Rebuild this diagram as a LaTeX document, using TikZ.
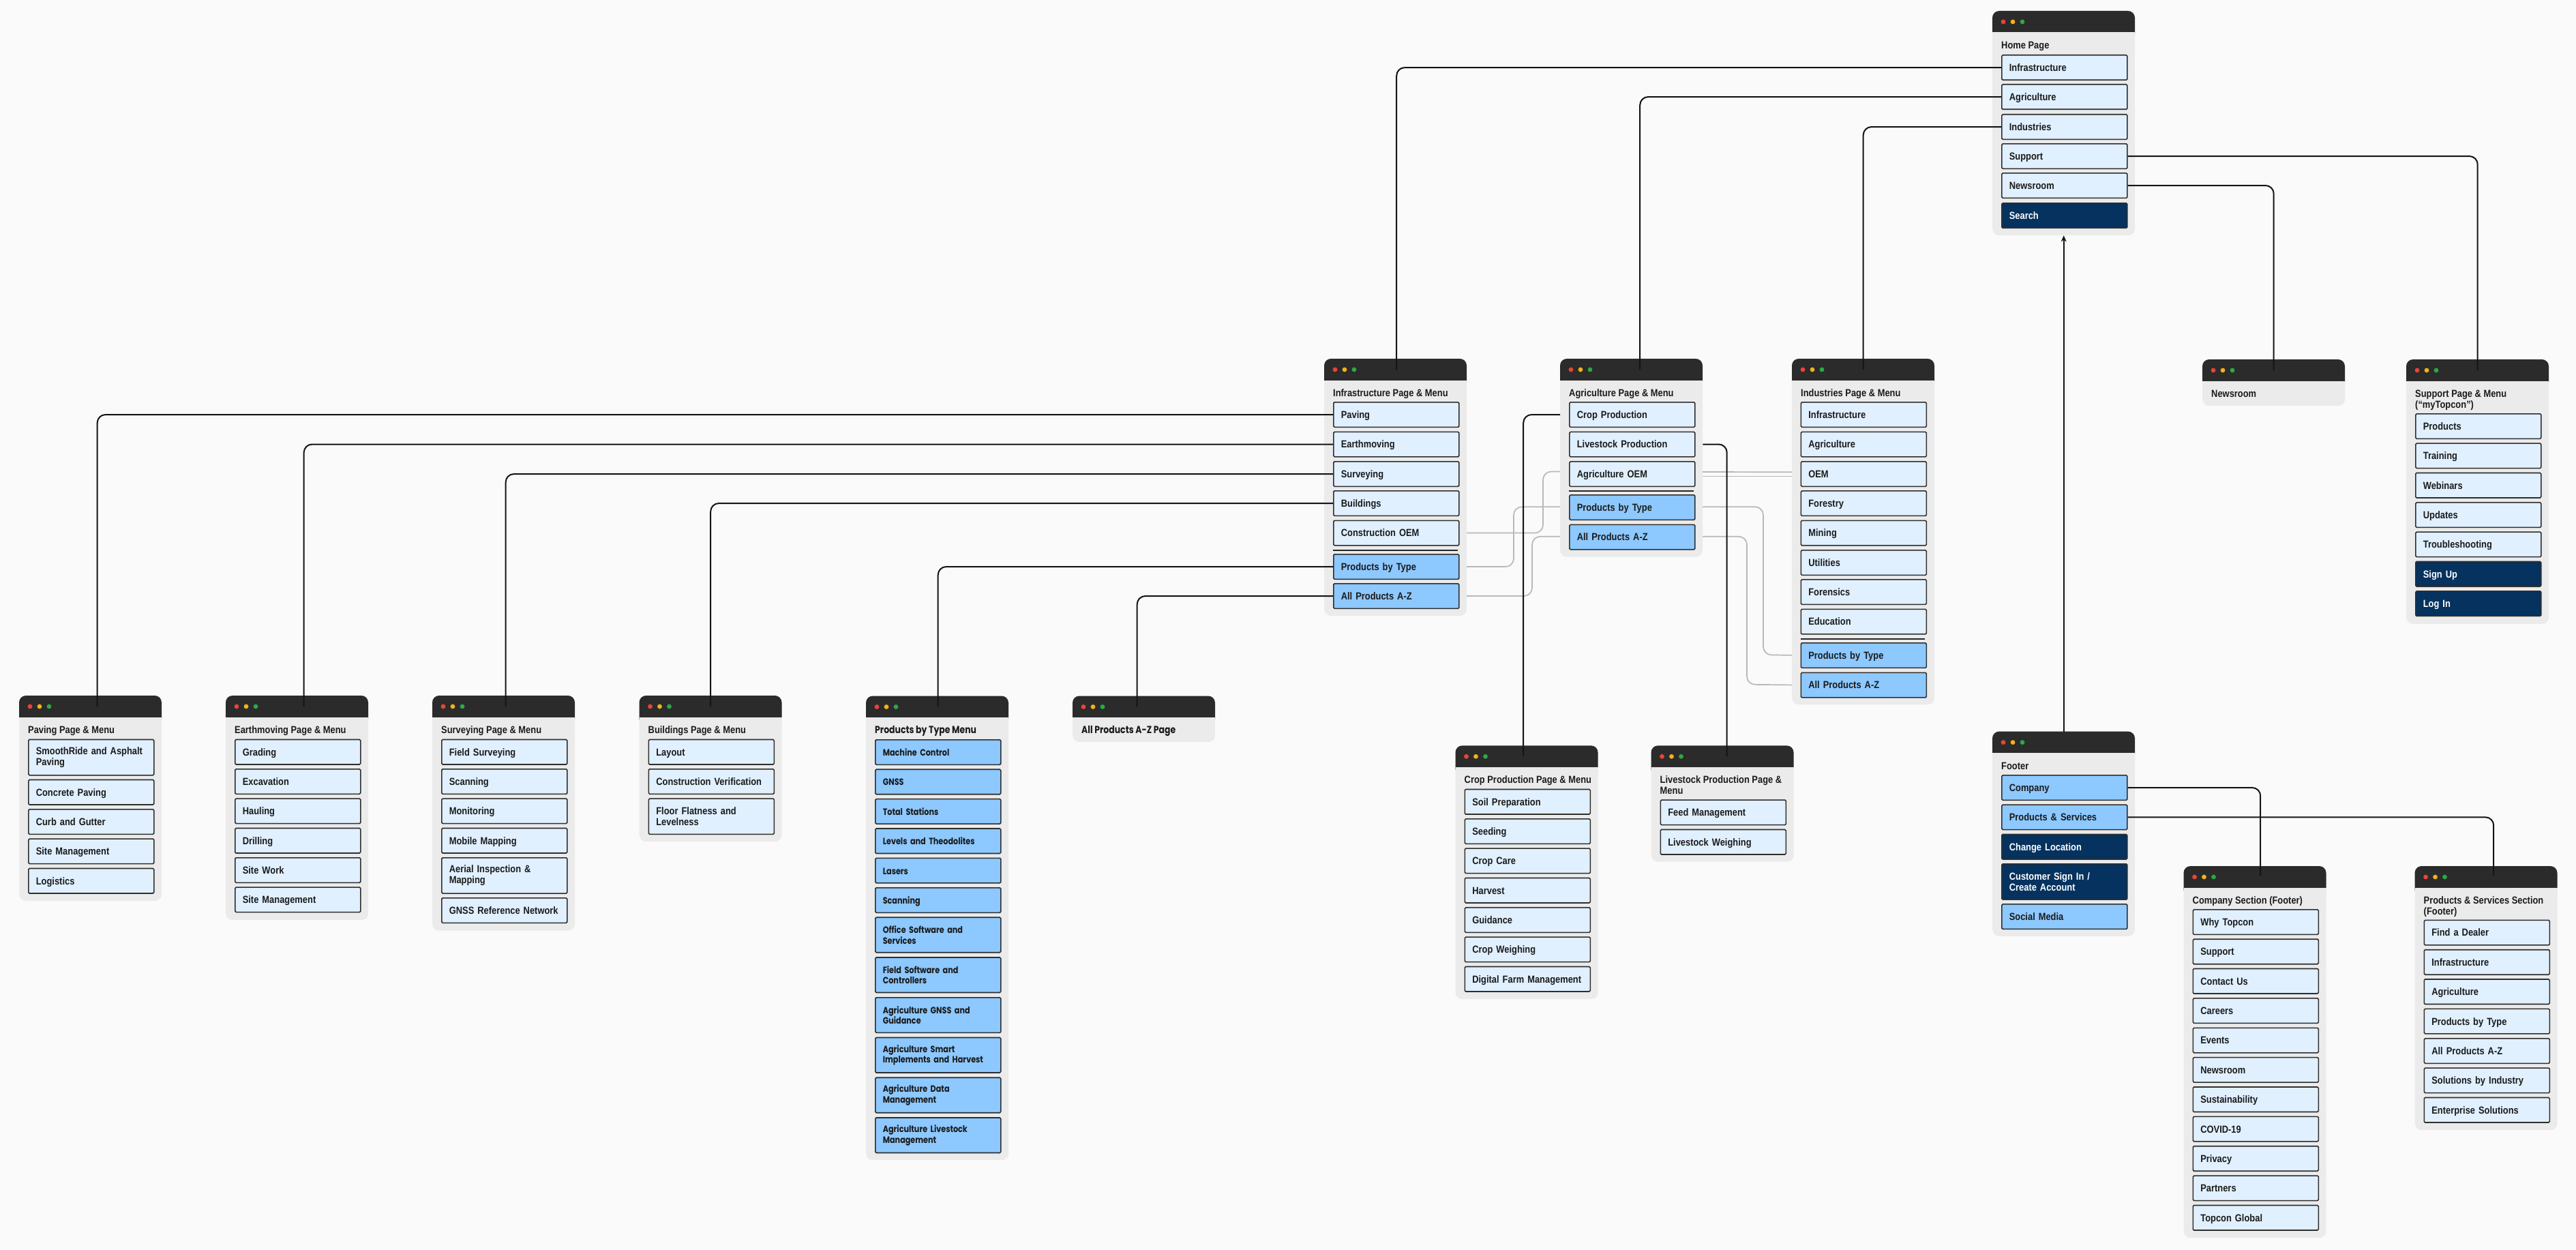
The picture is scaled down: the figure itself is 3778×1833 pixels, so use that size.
\documentclass[tikz,border=0pt]{standalone}
\usepackage{fontspec}
\setmainfont{Liberation Sans}[FakeStretch=0.86]
\newfontfamily\popfont{Poppins}[FakeStretch=0.83]
\usetikzlibrary{arrows.meta,calc}
\definecolor{bgc}{HTML}{FAFAFA}
\definecolor{winbg}{HTML}{EBEBEB}
\definecolor{tbarc}{HTML}{2B2B2B}
\definecolor{itlight}{HTML}{E0F0FF}
\definecolor{itblue}{HTML}{8DC8FE}
\definecolor{itnavy}{HTML}{05325F}
\definecolor{edge}{HTML}{2E2E2E}
\definecolor{txt}{HTML}{1A1A1A}
\definecolor{dred}{HTML}{EB4437}
\definecolor{dorange}{HTML}{F5B118}
\definecolor{dgreen}{HTML}{2BAA45}
\definecolor{gline}{HTML}{B8B8B8}
\pgfdeclarelayer{background}
\pgfdeclarelayer{lines}
\pgfsetlayers{background,lines,main}
\newcommand\ifont{\fontsize{15}{16}\selectfont\bfseries}
\newcommand\pfont{\popfont\fontsize{13.5}{15.5}\selectfont\bfseries}
\tikzset{
  x=1pt, y=-1pt,
  itembase/.style={draw=edge, line width=1.6pt, rounded corners=1.5pt, fill=itlight,
    anchor=north west, minimum width=184pt, text width=162pt, inner xsep=11pt,
    inner ysep=0pt, align=left, font=\ifont, text=txt},
  item/.style={itembase, minimum height=36.5pt, text height=12pt, text depth=1.3pt},
  itemtwo/.style={itembase, minimum height=52.3pt},
  blue/.style={fill=itblue},
  navy/.style={fill=itnavy, text=white},
  pitem/.style={item, fill=itblue, font=\pfont},
  pitemtwo/.style={itemtwo, fill=itblue, font=\pfont, minimum height=51.5pt},
  winnode/.style={rectangle, fill=winbg, rounded corners=10pt, anchor=north west,
    minimum width=209pt, inner sep=0pt, draw=none},
  wtitle/.style={anchor=base west, inner sep=0pt, font=\ifont, text=txt},
  sepline/.style={draw=black!85, line width=2.2pt},
  conn/.style={draw=black!92, line width=2pt, rounded corners=12pt},
  gconn/.style={draw=gline, line width=1.7pt, rounded corners=12pt},
}
% name, x, top, bottom, title
\newcommand\mkwin[5]{%
  \pgfmathsetmacro\winh{#4-#3}%
  \node[winnode, minimum height=\winh pt] (#1) at (#2,#3) {};
  \fill[tbarc, rounded corners=10pt] (#2,#3) rectangle (#2+209,#3+44);
  \fill[winbg] (#2,#3+31.5) rectangle (#2+209,#3+45);
  \fill[dred] (#2+16,#3+16) circle (3.4pt);
  \fill[dorange] (#2+30,#3+16) circle (3.4pt);
  \fill[dgreen] (#2+44,#3+16) circle (3.4pt);
  \node[wtitle] (#1t) at (#2+13,#3+55.4) {#5};
}
\newcommand\itm[5]{\node[#1] (#2) at (#3,#4) {#5};}
\newcommand\twol[2]{\parbox[t]{195pt}{\raggedright #1\\#2}}

\begin{document}
\begin{tikzpicture}
\begin{pgfonlayer}{background}
\fill[bgc] (0,0) rectangle (3778,1833);
\end{pgfonlayer}
\useasboundingbox (0,0) rectangle (3778,1833);

% ---------- Home page ----------
\mkwin{home}{2922}{16}{345}{Home Page}
\itm{item}{h1}{2935}{80}{Infrastructure}
\itm{item}{h2}{2935}{123}{Agriculture}
\itm{item}{h3}{2935}{167}{Industries}
\itm{item}{h4}{2935}{210}{Support}
\itm{item}{h5}{2935}{253}{Newsroom}
\itm{item,navy}{h6}{2935}{297}{Search}

% ---------- Infrastructure ----------
\mkwin{infra}{1942}{526}{903}{Infrastructure Page \& Menu}
\itm{item}{i1}{1955}{589}{Paving}
\itm{item}{i2}{1955}{632.5}{Earthmoving}
\itm{item}{i3}{1955}{676}{Surveying}
\itm{item}{i4}{1955}{719}{Buildings}
\itm{item}{i5}{1955}{762.5}{Construction OEM}
\draw[sepline] ([yshift=-6pt]i5.south west) -- ([yshift=-6pt,xshift=-3pt]i5.south east);
\itm{item,blue}{i6}{1955}{812}{Products by Type}
\itm{item,blue}{i7}{1955}{855}{All Products A-Z}

% ---------- Agriculture ----------
\mkwin{agri}{2288}{526}{816.5}{Agriculture Page \& Menu}
\itm{item}{a1}{2301}{589}{Crop Production}
\itm{item}{a2}{2301}{632.5}{Livestock Production}
\itm{item}{a3}{2301}{676}{Agriculture OEM}
\draw[sepline] ([yshift=-6pt]a3.south west) -- ([yshift=-6pt,xshift=-3pt]a3.south east);
\itm{item,blue}{a4}{2301}{725}{Products by Type}
\itm{item,blue}{a5}{2301}{768.5}{All Products A-Z}

% ---------- Industries ----------
\mkwin{ind}{2628}{526}{1033}{Industries Page \& Menu}
\itm{item}{n1}{2640.5}{589}{Infrastructure}
\itm{item}{n2}{2640.5}{632.5}{Agriculture}
\itm{item}{n3}{2640.5}{676}{OEM}
\itm{item}{n4}{2640.5}{719}{Forestry}
\itm{item}{n5}{2640.5}{762.5}{Mining}
\itm{item}{n6}{2640.5}{806}{Utilities}
\itm{item}{n7}{2640.5}{849}{Forensics}
\itm{item}{n8}{2640.5}{892.5}{Education}
\draw[sepline] ([yshift=-6pt]n8.south west) -- ([yshift=-6pt,xshift=-3pt]n8.south east);
\itm{item,blue}{n9}{2640.5}{942}{Products by Type}
\itm{item,blue}{n10}{2640.5}{985.5}{All Products A-Z}

% ---------- Newsroom ----------
\mkwin{news}{3230}{527}{595}{Newsroom}

% ---------- Support ----------
\mkwin{sup}{3529}{527}{915}{\twol{Support Page \& Menu}{(“myTopcon”)}}
\itm{item}{s1}{3542}{606}{Products}
\itm{item}{s2}{3542}{649.3}{Training}
\itm{item}{s3}{3542}{692.7}{Webinars}
\itm{item}{s4}{3542}{736}{Updates}
\itm{item}{s5}{3542}{779.3}{Troubleshooting}
\itm{item,navy}{s6}{3542}{822.7}{Sign Up}
\itm{item,navy}{s7}{3542}{866}{Log In}

% ---------- Paving ----------
\mkwin{pav}{28}{1020}{1321}{Paving Page \& Menu}
\itm{itemtwo}{p1}{41}{1083.7}{SmoothRide and Asphalt\\Paving}
\itm{item}{p2}{41}{1142.7}{Concrete Paving}
\itm{item}{p3}{41}{1186}{Curb and Gutter}
\itm{item}{p4}{41}{1229.3}{Site Management}
\itm{item}{p5}{41}{1272.7}{Logistics}

% ---------- Earthmoving ----------
\mkwin{earth}{331}{1020}{1349}{Earthmoving Page \& Menu}
\itm{item}{e1}{344}{1083.7}{Grading}
\itm{item}{e2}{344}{1127}{Excavation}
\itm{item}{e3}{344}{1170.3}{Hauling}
\itm{item}{e4}{344}{1213.7}{Drilling}
\itm{item}{e5}{344}{1257}{Site Work}
\itm{item}{e6}{344}{1300.3}{Site Management}

% ---------- Surveying ----------
\mkwin{surv}{634}{1020}{1364.5}{Surveying Page \& Menu}
\itm{item}{v1}{647}{1083.7}{Field Surveying}
\itm{item}{v2}{647}{1127}{Scanning}
\itm{item}{v3}{647}{1170.3}{Monitoring}
\itm{item}{v4}{647}{1213.7}{Mobile Mapping}
\itm{itemtwo}{v5}{647}{1257}{Aerial Inspection \&\\Mapping}
\itm{item}{v6}{647}{1316}{GNSS Reference Network}

% ---------- Buildings ----------
\mkwin{build}{937.5}{1020}{1234}{Buildings Page \& Menu}
\itm{item}{b1}{950.5}{1083.7}{Layout}
\itm{item}{b2}{950.5}{1127}{Construction Verification}
\itm{itemtwo}{b3}{950.5}{1170.3}{Floor Flatness and\\Levelness}

% ---------- Products by Type Menu ----------
\mkwin{pbt}{1270}{1020.5}{1701}{{\popfont Products by Type Menu}}
\itm{pitem}{t1}{1283}{1084}{Machine Control}
\itm{pitem}{t2}{1283}{1127.4}{GNSS}
\itm{pitem}{t3}{1283}{1170.8}{Total Stations}
\itm{pitem}{t4}{1283}{1214.2}{Levels and Theodolites}
\itm{pitem}{t5}{1283}{1257.6}{Lasers}
\itm{pitem}{t6}{1283}{1301}{Scanning}
\itm{pitemtwo}{t7}{1283}{1344.4}{Office Software and\\Services}
\itm{pitemtwo}{t8}{1283}{1403.2}{Field Software and\\Controllers}
\itm{pitemtwo}{t9}{1283}{1462}{Agriculture GNSS and\\Guidance}
\itm{pitemtwo}{t10}{1283}{1520.7}{Agriculture Smart\\Implements and Harvest}
\itm{pitemtwo}{t11}{1283}{1579.4}{Agriculture Data\\Management}
\itm{pitemtwo}{t12}{1283}{1638.2}{Agriculture Livestock\\Management}

% ---------- All Products A-Z Page ----------
\mkwin{az}{1573}{1020.5}{1088}{{\popfont All Products A-Z Page}}

% ---------- Crop Production ----------
\mkwin{crop}{2134.5}{1093.3}{1465}{Crop Production Page \& Menu}
\itm{item}{c1}{2147.5}{1156.7}{Soil Preparation}
\itm{item}{c2}{2147.5}{1200}{Seeding}
\itm{item}{c3}{2147.5}{1243.3}{Crop Care}
\itm{item}{c4}{2147.5}{1286.7}{Harvest}
\itm{item}{c5}{2147.5}{1330}{Guidance}
\itm{item}{c6}{2147.5}{1373.3}{Crop Weighing}
\itm{item}{c7}{2147.5}{1416.7}{Digital Farm Management}

% ---------- Livestock Production ----------
\mkwin{live}{2421.5}{1093.3}{1263.5}{\twol{Livestock Production Page \&}{Menu}}
\itm{item}{l1}{2434.5}{1172.3}{Feed Management}
\itm{item}{l2}{2434.5}{1215.7}{Livestock Weighing}

% ---------- Footer ----------
\mkwin{foot}{2922}{1072.6}{1372.6}{Footer}
\itm{item,blue}{f1}{2935}{1136}{Company}
\itm{item,blue}{f2}{2935}{1179.3}{Products \& Services}
\itm{item,navy}{f3}{2935}{1222.7}{Change Location}
\itm{itemtwo,navy}{f4}{2935}{1266}{Customer Sign In /\\Create Account}
\itm{item,blue}{f5}{2935}{1325}{Social Media}

% ---------- Company Section ----------
\mkwin{comp}{3202.5}{1270}{1815}{Company Section (Footer)}
\itm{item}{k1}{3215.5}{1333}{Why Topcon}
\itm{item}{k2}{3215.5}{1376.4}{Support}
\itm{item}{k3}{3215.5}{1419.7}{Contact Us}
\itm{item}{k4}{3215.5}{1463.1}{Careers}
\itm{item}{k5}{3215.5}{1506.5}{Events}
\itm{item}{k6}{3215.5}{1549.8}{Newsroom}
\itm{item}{k7}{3215.5}{1593.2}{Sustainability}
\itm{item}{k8}{3215.5}{1636.6}{COVID-19}
\itm{item}{k9}{3215.5}{1679.9}{Privacy}
\itm{item}{k10}{3215.5}{1723.3}{Partners}
\itm{item}{k11}{3215.5}{1766.7}{Topcon Global}

% ---------- Products & Services Section ----------
\mkwin{pss}{3541.5}{1270}{1657}{\twol{Products \& Services Section}{(Footer)}}
\itm{item}{q1}{3554.5}{1348.5}{Find a Dealer}
\itm{item}{q2}{3554.5}{1391.9}{Infrastructure}
\itm{item}{q3}{3554.5}{1435.2}{Agriculture}
\itm{item}{q4}{3554.5}{1478.6}{Products by Type}
\itm{item}{q5}{3554.5}{1522}{All Products A-Z}
\itm{item}{q6}{3554.5}{1565.3}{Solutions by Industry}
\itm{item}{q7}{3554.5}{1608.7}{Enterprise Solutions}

% ---------- grey cross links (behind windows) ----------
\begin{pgfonlayer}{lines}
\draw[gconn] (i5.east) -| (2263,691.5) -- ([yshift=2.75pt]n3.west);
\draw[gconn] ([yshift=-3.5pt]a3.east -| agri.east) -- ([yshift=-3.5pt]n3.west);
\draw[gconn] (i6.east) -| (2220,743.25) -| (2586,960.25) -- (n9.west);
\draw[gconn] (i7.east) -| (2247,786.75) -| (2562,1003.75) -- (n10.west);
\end{pgfonlayer}

% ---------- black connectors ----------
\draw[conn] (h1.west) -| ([xshift=1.5pt,yshift=-16pt]infra.north);
\draw[conn] (h2.west) -| ([xshift=12.5pt,yshift=-16pt]agri.north);
\draw[conn] (h3.west) -| ([yshift=-16pt]ind.north);
\draw[conn] (h4.east) -| ([yshift=-16pt]sup.north);
\draw[conn] (h5.east) -| ([yshift=-16pt]news.north);
\draw[conn] (i1.west) -| ([xshift=10pt,yshift=-16pt]pav.north);
\draw[conn] (i2.west) -| ([xshift=10pt,yshift=-16pt]earth.north);
\draw[conn] (i3.west) -| ([xshift=3pt,yshift=-16pt]surv.north);
\draw[conn] (i4.west) -| ([yshift=-16pt]build.north);
\draw[conn] (i6.west) -| ([xshift=1pt,yshift=-16pt]pbt.north);
\draw[conn] (i7.west) -| ([xshift=-10pt,yshift=-16pt]az.north);
\draw[conn] (a1.west -| agri.west) -| ([xshift=-5pt,yshift=-16pt]crop.north);
\draw[conn] (a2.east -| agri.east) -| ([xshift=6.5pt,yshift=-16pt]live.north);
\draw[conn] (f1.east) -| ([xshift=8pt,yshift=-14pt]comp.north);
\draw[conn] (f2.east) -| ([xshift=11pt,yshift=-14pt]pss.north);
\draw[conn, -{Stealth[length=9pt,width=8pt]}] (foot.north) -- (home.south);
\end{tikzpicture}
\end{document}
